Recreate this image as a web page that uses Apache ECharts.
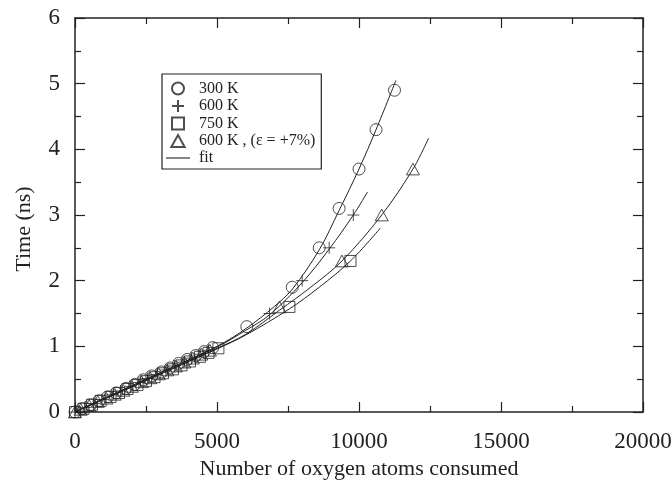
<!DOCTYPE html>
<html>
<head>
<meta charset="utf-8">
<script src="https://cdn.jsdelivr.net/npm/echarts@6/dist/echarts.min.js"></script>
<style>
html,body{margin:0;padding:0;background:#fff;}
#chart{width:672px;height:482px;}
</style>
</head>
<body>
<div id="chart"></div>
<script>
// ---- data ----
var xTicks = [0, 5000, 10000, 15000, 20000];
var yTicks = [0, 1, 2, 3, 4, 5, 6];

var pts300 = [[0,0.00],[250,0.05],[550,0.11],[850,0.17],[1150,0.23],[1450,0.29],[1800,0.36],[2100,0.42],[2400,0.49],[2700,0.55],[3050,0.61],[3350,0.67],[3650,0.74],[3950,0.80],[4250,0.86],[4550,0.92],[4850,0.98],
              [6050,1.3],[7650,1.9],[8600,2.5],[9300,3.1],[10000,3.7],[10600,4.3],[11250,4.9]];
var pts600 = [[0,0.00],[350,0.07],[650,0.13],[950,0.19],[1300,0.26],[1600,0.32],[1950,0.39],[2250,0.45],[2550,0.51],[2850,0.57],[3200,0.64],[3500,0.70],[3800,0.76],[4100,0.82],[4400,0.88],[4700,0.94],
              [6850,1.5],[8000,2.0],[8950,2.5],[9800,3.0]];
var pts750 = [[0,0.00],[300,0.05],[600,0.11],[900,0.17],[1250,0.23],[1550,0.29],[1850,0.35],[2200,0.41],[2500,0.47],[2800,0.53],[3100,0.59],[3450,0.65],[3750,0.71],[4050,0.77],[4400,0.84],[4700,0.90],[5050,0.97],
              [7550,1.6],[9700,2.3]];
var pts600e = [[0,0.00],[200,0.04],[500,0.10],[800,0.16],[1100,0.21],[1400,0.27],[1700,0.33],[2000,0.39],[2350,0.46],[2650,0.52],[2950,0.58],[3250,0.64],[3550,0.70],[3850,0.76],[4150,0.82],[4450,0.88],[4750,0.94],
              [7200,1.6],[9400,2.3],[10800,3.0],[11900,3.7]];

var fit300  = [[0,0],[2500,0.5],[5000,1.0],[6050,1.28],[7000,1.6],[7650,1.87],[8600,2.47],[9300,3.07],[10000,3.7],[10600,4.3],[11300,5.05]];
var fit600  = [[0,0],[2500,0.5],[5000,0.99],[6000,1.24],[6850,1.48],[8000,1.97],[8950,2.48],[9800,3.0],[10300,3.35]];
var fit750  = [[0,0],[2500,0.48],[5000,0.96],[6000,1.17],[7550,1.57],[8600,1.9],[9700,2.3],[10750,2.8]];
var fit600e = [[0,0],[2500,0.48],[5000,0.97],[6000,1.18],[7200,1.55],[8300,1.9],[9400,2.3],[10800,3.0],[11900,3.7],[12450,4.17]];

var names = ['300 K', '600 K', '750 K', '600 K , (\u03b5 = +7%)', 'fit'];

var INK = '#222';
var FONT = 'Liberation Serif';
var SQUARE = 'path://M0,0L10,0L10,10L0,10Z';
var TRIANGLE = 'path://M5,0L10,9L0,9Z';
var PLUS = 'path://M5,0L5,10M0,5L10,5';
var DASH = 'path://M0,0L24,0L24,1.1L0,1.1Z';

var chart = echarts.init(document.getElementById('chart'));

function scatter(name, data, symbol, size) {
  return {
    type: 'scatter', name: name, data: data, symbol: symbol, symbolSize: size, symbolKeepAspect: true,
    itemStyle: { color: 'none', borderColor: INK, borderWidth: 1 },
    z: 3
  };
}
function fit(data) {
  return {
    type: 'line', name: 'fit', data: data, smooth: 0.35, showSymbol: false, symbol: 'none',
    lineStyle: { color: INK, width: 1 }, itemStyle: { color: INK }, z: 2, silent: true
  };
}

function axisCommon() {
  return {
    axisLine: { show: true, onZero: false, lineStyle: { color: INK, width: 1.5 } },
    axisTick: { show: true, inside: true, length: 10, lineStyle: { color: INK, width: 1.2 } },
    minorTick: { show: true, splitNumber: 2, length: 6, lineStyle: { color: INK, width: 1.2 } },
    splitLine: { show: false }
  };
}

chart.setOption({
  animation: false,
  backgroundColor: '#fff',
  grid: { left: 75, right: 29, top: 18, bottom: 70, containLabel: false, outerBoundsMode: 'none' },
  xAxis: [
    Object.assign({
      type: 'value', min: xTicks[0], max: xTicks[xTicks.length - 1], interval: 5000, position: 'bottom',
      axisLabel: { color: INK, fontFamily: FONT, fontSize: 23, margin: 18, formatter: function (v) { return String(v); } },
      name: 'Number of oxygen atoms consumed', nameLocation: 'middle', nameGap: 46,
      nameTextStyle: { color: INK, fontFamily: FONT, fontSize: 22 }
    }, axisCommon()),
    Object.assign({
      type: 'value', min: xTicks[0], max: xTicks[xTicks.length - 1], interval: 5000, position: 'top',
      axisLabel: { show: false }
    }, axisCommon())
  ],
  yAxis: [
    Object.assign({
      type: 'value', min: yTicks[0], max: yTicks[yTicks.length - 1], interval: 1, position: 'left',
      axisLabel: { color: INK, fontFamily: FONT, fontSize: 23, margin: 15, formatter: function (v) { return String(v); } }
    }, axisCommon()),
    Object.assign({
      type: 'value', min: yTicks[0], max: yTicks[yTicks.length - 1], interval: 1, position: 'right',
      axisLabel: { show: false }
    }, axisCommon())
  ],
  graphic: [{
    type: 'text', x: 24, y: 229, rotation: Math.PI / 2,
    style: { text: 'Time (ns)', fill: INK, font: '22px "Liberation Serif"', textAlign: 'center', textVerticalAlign: 'middle' }
  }],
  legend: {
    orient: 'vertical', left: 162, top: 74,
    data: [
      { name: names[0], icon: 'circle' },
      { name: names[1], icon: PLUS },
      { name: names[2], icon: SQUARE },
      { name: names[3], icon: TRIANGLE },
      { name: names[4], icon: DASH, itemStyle: { color: INK, borderWidth: 0 } }
    ],
    padding: [6, 6, 3, 4],
    itemGap: 0.5, itemWidth: 24, itemHeight: 12,
    backgroundColor: '#fff', borderColor: INK, borderWidth: 1.2,
    textStyle: { color: INK, fontFamily: FONT, fontSize: 16, lineHeight: 16, padding: [0, 0, 0, 4] },
    selectedMode: false
  },
  series: [
    scatter(names[0], pts300, 'circle', 12),
    scatter(names[1], pts600, PLUS, 12),
    scatter(names[2], pts750, SQUARE, 11),
    scatter(names[3], pts600e, TRIANGLE, 13),
    fit(fit300), fit(fit600), fit(fit750), fit(fit600e)
  ]
});
</script>
</body>
</html>
